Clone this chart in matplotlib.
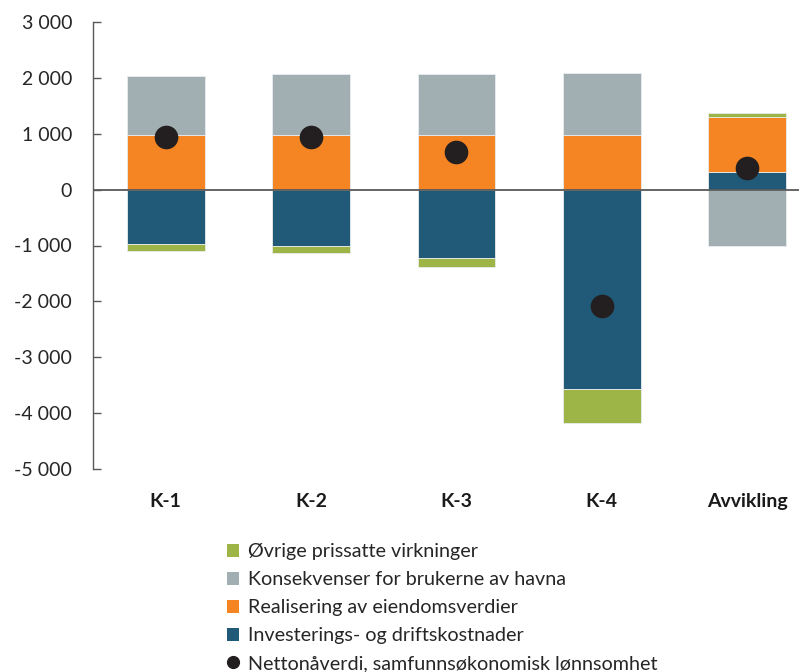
import matplotlib
matplotlib.use("Agg")
import matplotlib.pyplot as plt
from matplotlib.patches import Patch
from matplotlib.lines import Line2D
from matplotlib.ticker import FuncFormatter, FixedLocator
import numpy as np

plt.rcParams['font.family'] = ['Lato', 'DejaVu Sans']

categories = ["K-1", "K-2", "K-3", "K-4", "Avvikling"]

# Series in stacking order (first series sits closest to zero)
investering = [-970, -1000, -1225, -3560, 310]
realisering = [980, 980, 980, 980, 990]
konsekvenser = [1050, 1085, 1085, 1105, -1010]
ovrige = [-125, -130, -160, -615, 80]
netto = [940, 940, 680, -2090, 380]

series_names = [
    "Investerings- og driftskostnader",
    "Realisering av eiendomsverdier",
    "Konsekvenser for brukerne av havna",
    "Øvrige prissatte virkninger",
]
net_name = "Nettonåverdi, samfunnsøkonomisk lønnsomhet"
colors = ["#215A78", "#F48522", "#A1AEB2", "#9DB446"]
dot_color = "#231F20"

fig = plt.figure(figsize=(7.99, 6.72), dpi=100)
ax = fig.add_axes([93 / 799, 1 - 469 / 672, (799 - 93) / 799, (469 - 22) / 672])

x = np.arange(len(categories))
width = 0.535
pos_base = np.zeros(len(categories))
neg_base = np.zeros(len(categories))
for vals, col in zip([investering, realisering, konsekvenser, ovrige], colors):
    v = np.array(vals, dtype=float)
    bottoms = np.where(v >= 0, pos_base, neg_base)
    ax.bar(x, v, width, bottom=bottoms, color=col, edgecolor="#E8ECEE",
           linewidth=0.6, zorder=2)
    pos_base += np.where(v >= 0, v, 0)
    neg_base += np.where(v < 0, v, 0)

ax.scatter(x, netto, s=290, color=dot_color, zorder=4, linewidths=0)

ax.axhline(0, color="#595959", linewidth=1.3, zorder=3)

ax.set_ylim(-5000, 3000)
ax.set_xlim(-0.5, 4.357)
ax.yaxis.set_major_locator(FixedLocator(np.arange(-5000, 3001, 1000)))
ax.yaxis.set_major_formatter(
    FuncFormatter(lambda v, p: f"{int(v):,}".replace(",", " ")))
ax.tick_params(axis="y", direction="in", length=6, width=1, color="#595959",
               labelsize=14, labelcolor="#262626", pad=15)
ax.set_xticks(x)
ax.set_xticklabels(categories, fontweight="bold", fontsize=14, color="#1a1a1a")
ax.tick_params(axis="x", length=0, pad=17)

for s in ["top", "right", "bottom"]:
    ax.spines[s].set_visible(False)
ax.spines["left"].set_color("#595959")
ax.spines["left"].set_linewidth(1)

handles = [Patch(facecolor=colors[i], edgecolor="none", label=series_names[i])
           for i in [3, 2, 1, 0]]
handles.append(Line2D([], [], marker="o", linestyle="none", color=dot_color,
                      markersize=8.5, label=net_name))
leg = fig.legend(handles=handles, loc="upper left",
                 bbox_to_anchor=(227 / 799, 1 - 543 / 672), frameon=False,
                 fontsize=14.2, handlelength=0.63, handleheight=0.63,
                 handletextpad=0.42, labelspacing=0.56, borderpad=0,
                 borderaxespad=0)
for t in leg.get_texts():
    t.set_color("#262626")

fig.savefig("out.png", dpi=100)
